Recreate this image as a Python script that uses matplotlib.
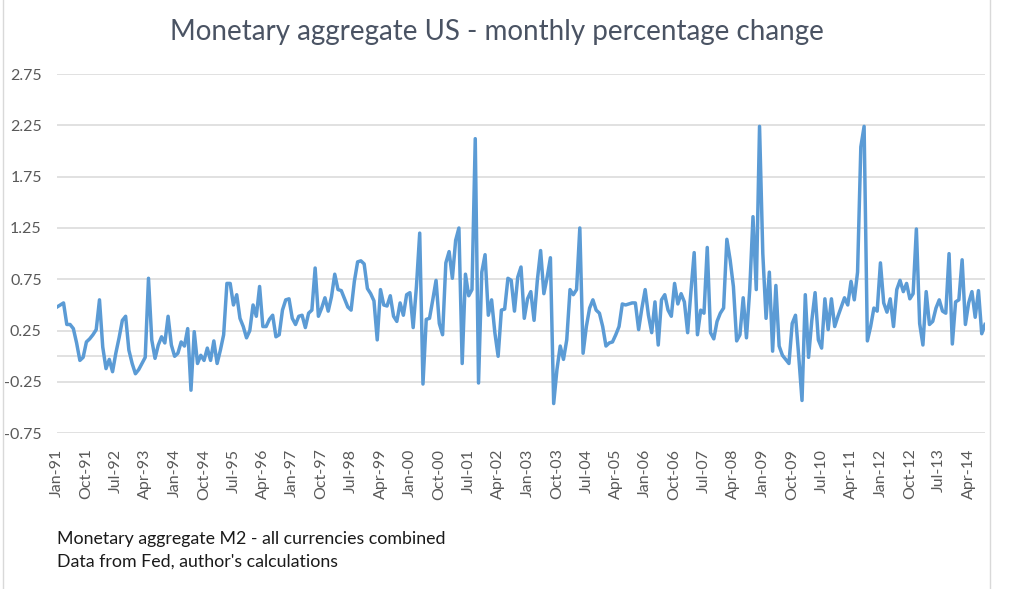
import pandas as pd
import matplotlib
matplotlib.use("Agg")
import matplotlib.pyplot as plt
from matplotlib.lines import Line2D

TITLE = "Monetary aggregate US - monthly percentage change"
NOTE_LINES = ["Monetary aggregate M2 - all currencies combined",
              "Data from Fed, author's calculations"]

# monthly % change of M2 from Jan-91
m2_change = [
    0.48, 0.50, 0.52, 0.31, 0.31, 0.27, 0.13, -0.04, -0.01, 0.14,
    0.17, 0.21, 0.26, 0.55, 0.09, -0.12, -0.03, -0.15, 0.03, 0.18,
    0.35, 0.39, 0.06, -0.07, -0.17, -0.13, -0.07, -0.01, 0.76,
    0.16, -0.02, 0.11, 0.19, 0.13, 0.39, 0.11, 0.00, 0.03, 0.14,
    0.10, 0.27, -0.33, 0.24, -0.07, 0.01, -0.04, 0.08, -0.04, 0.15,
    -0.07, 0.06, 0.21, 0.71, 0.71, 0.50, 0.60, 0.37, 0.29, 0.18,
    0.25, 0.50, 0.39, 0.68, 0.29, 0.29, 0.36, 0.40, 0.19, 0.21,
    0.45, 0.55,
    0.56, 0.37, 0.31, 0.39, 0.40, 0.28, 0.42, 0.45, 0.86, 0.39,
    0.47, 0.57, 0.44, 0.58, 0.80, 0.65, 0.64, 0.56, 0.48, 0.45,
    0.73, 0.92, 0.93, 0.90, 0.66, 0.61, 0.54, 0.16, 0.65, 0.50,
    0.49, 0.59, 0.39, 0.34, 0.52, 0.40, 0.60, 0.62, 0.28, 0.68,
    1.20, -0.27, 0.36, 0.37, 0.55, 0.74, 0.32, 0.21, 0.91, 1.02,
    0.76, 1.13, 1.25, -0.07, 0.80, 0.59, 0.65, 2.12, -0.26, 0.82,
    0.99, 0.40, 0.55, 0.23, 0.00, 0.45, 0.46, 0.76, 0.74, 0.44,
    0.77, 0.87, 0.37, 0.56, 0.63, 0.35, 0.74, 1.03, 0.61, 0.77,
    0.96, -0.46, -0.13, 0.10, -0.03, 0.16, 0.65,
    0.60, 0.65, 1.25, 0.03, 0.29, 0.47, 0.55, 0.45, 0.42, 0.29,
    0.10, 0.13, 0.14, 0.21, 0.29, 0.51, 0.50, 0.51, 0.52, 0.52,
    0.26, 0.47, 0.65, 0.40, 0.23, 0.53, 0.11, 0.55, 0.60, 0.45,
    0.39, 0.71, 0.51, 0.61, 0.53, 0.23, 0.63, 1.01, 0.21, 0.45,
    0.42, 1.06, 0.23,
    0.17, 0.34, 0.42, 0.47, 1.14, 0.94, 0.68, 0.15, 0.21, 0.57,
    0.18, 0.65, 1.36, 0.65, 2.24, 1.00, 0.37, 0.82, 0.05, 0.69,
    0.10, 0.01, -0.03, -0.07, 0.32, 0.40, 0.00, -0.43, 0.60, -0.01,
    0.35, 0.62, 0.16, 0.08, 0.56, 0.26, 0.56, 0.29, 0.39, 0.48,
    0.57, 0.50, 0.73,
    0.55, 0.82, 2.04, 2.24, 0.15, 0.29, 0.47, 0.44, 0.91, 0.52,
    0.43, 0.56, 0.29, 0.65, 0.74, 0.63, 0.71, 0.56, 0.61, 1.24,
    0.32, 0.11, 0.63, 0.31, 0.34, 0.47, 0.55, 0.44, 0.42, 1.00,
    0.12, 0.53, 0.55, 0.94, 0.31, 0.52, 0.63, 0.38, 0.64, 0.22,
    0.31,
]

months = pd.date_range("1991-01-01", periods=len(m2_change), freq="MS")
TICK_STEP = 9
tick_pos = list(range(0, len(months), TICK_STEP))
tick_labels = [months[i].strftime("%b-%y") for i in tick_pos]
y_ticks = [-0.75, -0.25, 0.25, 0.75, 1.25, 1.75, 2.25, 2.75]

LINE_COLOR = "#5b9bd5"
GRID_COLOR = "#d9d9d9"
TEXT_COLOR = "#595959"

plt.rcParams["font.family"] = ["Lato", "DejaVu Sans"]

fig = plt.figure(figsize=(10.24, 5.89), dpi=100)
ax = fig.add_axes([57 / 1024, 1 - 433.3 / 589, (985 - 57) / 1024, (433.3 - 74) / 589])

ax.plot(range(len(m2_change)), m2_change, color=LINE_COLOR, lw=2.5,
        solid_joinstyle="round", zorder=3)

ax.set_xlim(0, len(m2_change) - 1)
ax.set_ylim(-0.75, 2.75)
ax.set_yticks(y_ticks)
ax.set_yticklabels([f"{v:.2f}" for v in y_ticks])
ax.set_xticks(tick_pos)
ax.set_xticklabels(tick_labels, rotation=90)
ax.grid(axis="y", color=GRID_COLOR, lw=1.1)
ax.axhline(0, color=GRID_COLOR, lw=1.1, zorder=1)
ax.set_axisbelow(True)
for s in ax.spines.values():
    s.set_visible(False)
ax.tick_params(axis="both", length=0, labelsize=11.5, colors=TEXT_COLOR)
ax.tick_params(axis="y", pad=11)
ax.tick_params(axis="x", pad=11)

fig.text(0.485, 1 - 32 / 589, TITLE, ha="center", va="center",
         fontsize=20, color="#4a5363")
fig.text(57 / 1024, 1 - 539 / 589, NOTE_LINES[0], ha="left", va="center",
         fontsize=12.8, color="#1a1a1a")
fig.text(57 / 1024, 1 - 562 / 589, NOTE_LINES[1], ha="left", va="center",
         fontsize=12.8, color="#1a1a1a")

# light chart frame edges
for xf in (3 / 1024, 990 / 1024):
    fig.add_artist(Line2D([xf, xf], [0, 1], transform=fig.transFigure,
                          color="#d9d9d9", lw=1))

fig.savefig("out.png", dpi=100)
